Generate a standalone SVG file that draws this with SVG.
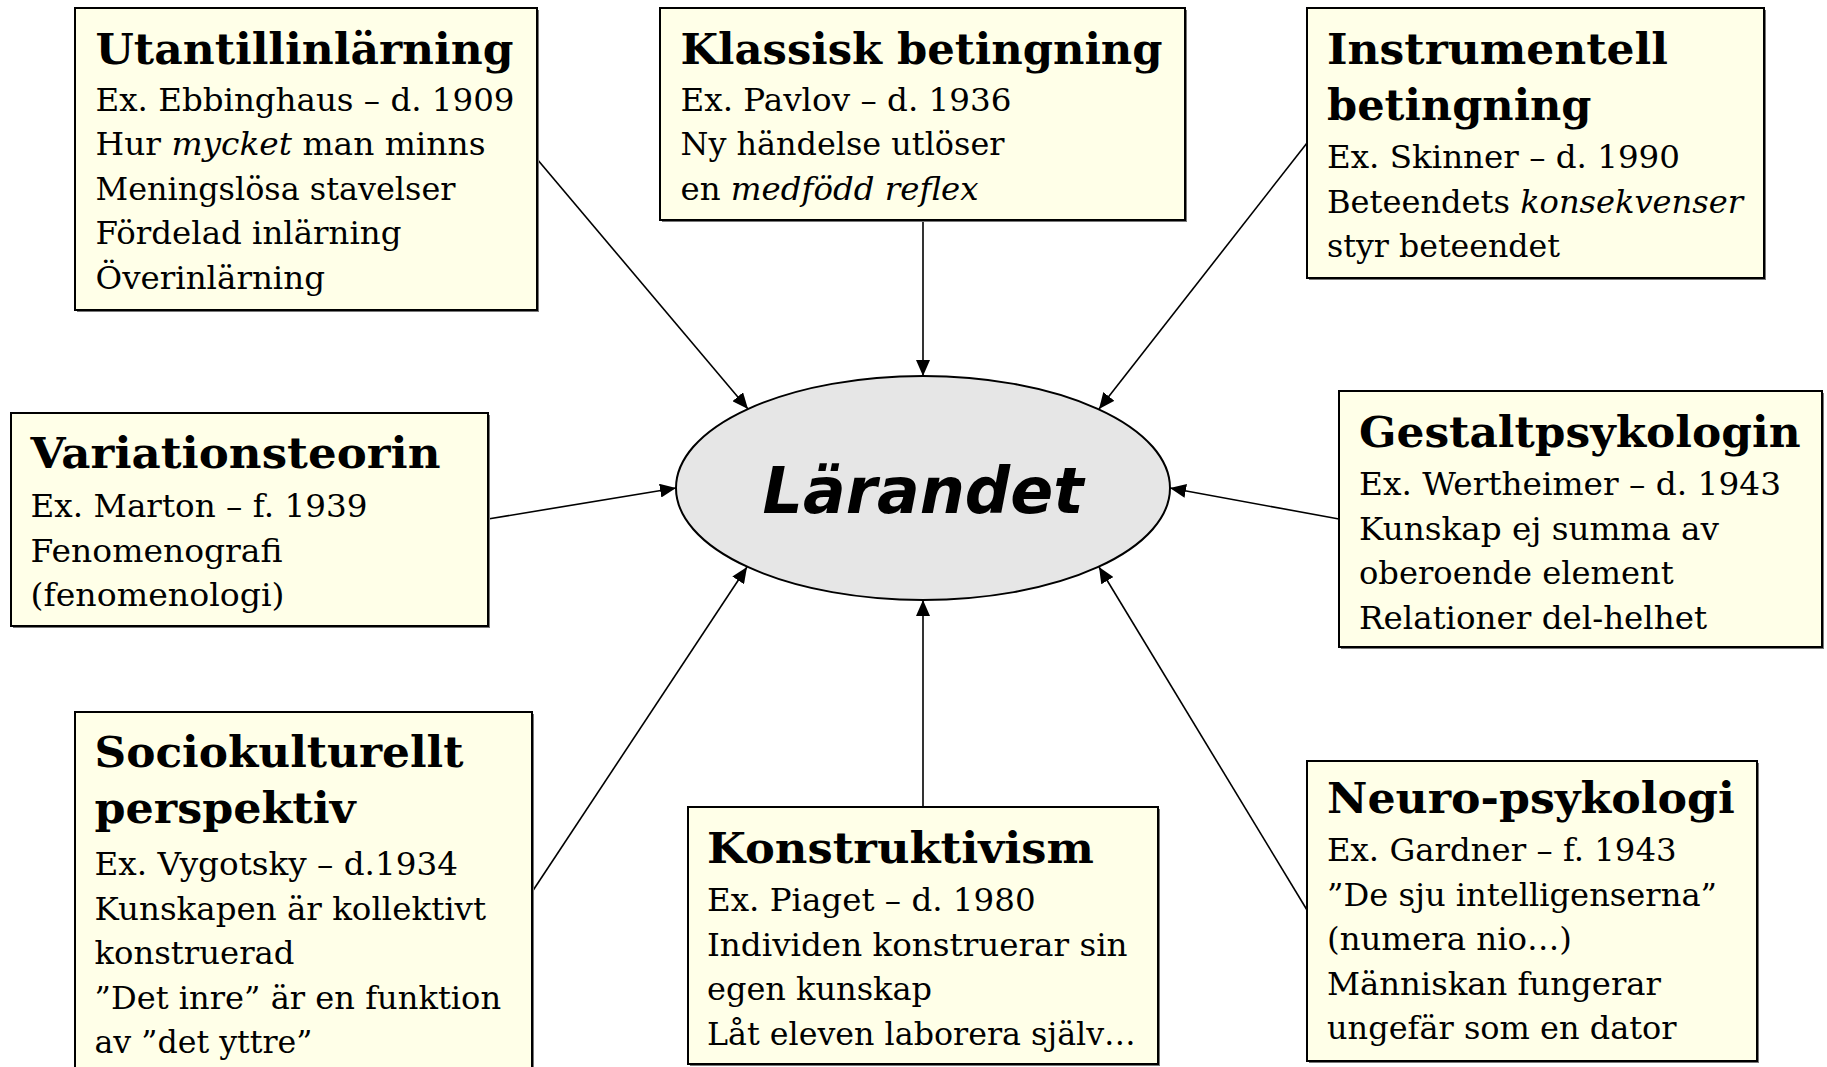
<svg xmlns="http://www.w3.org/2000/svg" width="1827" height="1067" viewBox="0 0 1827 1067">
<style>
.box{fill:#FFFFE8;stroke:#000;stroke-width:2}
.sh{fill:#777}
.t{font-family:"DejaVu Serif",serif;font-weight:bold;font-size:42px;fill:#000}
.b{font-family:"DejaVu Serif",serif;font-size:32.5px;fill:#000}
.i{font-style:italic}
.c{stroke:#000;stroke-width:1.6;fill:none;marker-end:url(#ah)}
</style>
<defs>
<marker id="ah" markerUnits="userSpaceOnUse" markerWidth="17" markerHeight="14" refX="16" refY="7" orient="auto">
<path d="M0,0 L16,7 L0,14 z" fill="#000"/>
</marker>
</defs>
<rect width="1827" height="1067" fill="#fff"/>
<g id="connectors">
<line class="c" x1="537" y1="159" x2="748" y2="409"/>
<line class="c" x1="923" y1="221" x2="923" y2="376"/>
<line class="c" x1="1307" y1="143" x2="1099" y2="409"/>
<line class="c" x1="488" y1="519" x2="676" y2="488"/>
<line class="c" x1="1339" y1="519" x2="1170" y2="488"/>
<line class="c" x1="532" y1="892" x2="747" y2="567"/>
<line class="c" x1="923" y1="807" x2="923" y2="600"/>
<line class="c" x1="1307" y1="910" x2="1099" y2="567"/>
</g>
<g id="center">
<ellipse cx="923" cy="488" rx="247" ry="112" fill="#E6E6E6" stroke="#000" stroke-width="2"/>
<text x="923" y="513" text-anchor="middle" font-family="DejaVu Sans, sans-serif" font-weight="bold" font-style="italic" font-size="64" textLength="321" lengthAdjust="spacingAndGlyphs">Lärandet</text>
</g>
<g id="utantillinlarning">
<rect class="sh" x="77" y="10" width="462" height="302"/>
<rect class="box" x="75" y="8" width="462" height="302"/>
<text class="t" x="95.5" y="64" textLength="418" lengthAdjust="spacingAndGlyphs">Utantillinlärning</text>
<text class="b" x="95.5" y="110.5" textLength="419" lengthAdjust="spacingAndGlyphs">Ex. Ebbinghaus – d. 1909</text>
<text class="b" x="95.5" y="155" textLength="390" lengthAdjust="spacingAndGlyphs">Hur <tspan class="i">mycket</tspan> man minns</text>
<text class="b" x="95.5" y="199.5" textLength="360" lengthAdjust="spacingAndGlyphs">Meningslösa stavelser</text>
<text class="b" x="95.5" y="244" textLength="306" lengthAdjust="spacingAndGlyphs">Fördelad inlärning</text>
<text class="b" x="95.5" y="288.5" textLength="229.5" lengthAdjust="spacingAndGlyphs">Överinlärning</text>
</g>
<g id="klassisk">
<rect class="sh" x="662" y="10" width="525" height="212"/>
<rect class="box" x="660" y="8" width="525" height="212"/>
<text class="t" x="680.5" y="64" textLength="482" lengthAdjust="spacingAndGlyphs">Klassisk betingning</text>
<text class="b" x="680.5" y="110.5" textLength="331" lengthAdjust="spacingAndGlyphs">Ex. Pavlov – d. 1936</text>
<text class="b" x="680.5" y="155" textLength="324" lengthAdjust="spacingAndGlyphs">Ny händelse utlöser</text>
<text class="b" x="680.5" y="199.5" textLength="298" lengthAdjust="spacingAndGlyphs">en <tspan class="i">medfödd reflex</tspan></text>
</g>
<g id="instrumentell">
<rect class="sh" x="1309" y="10" width="457" height="270"/>
<rect class="box" x="1307" y="8" width="457" height="270"/>
<text class="t" x="1327" y="64" textLength="341" lengthAdjust="spacingAndGlyphs">Instrumentell</text>
<text class="t" x="1327" y="120" textLength="264.5" lengthAdjust="spacingAndGlyphs">betingning</text>
<text class="b" x="1327" y="168" textLength="353" lengthAdjust="spacingAndGlyphs">Ex. Skinner – d. 1990</text>
<text class="b" x="1327" y="212.5" textLength="416" lengthAdjust="spacingAndGlyphs">Beteendets <tspan class="i">konsekvenser</tspan></text>
<text class="b" x="1327" y="257" textLength="233" lengthAdjust="spacingAndGlyphs">styr beteendet</text>
</g>
<g id="variationsteorin">
<rect class="sh" x="13" y="415" width="477" height="213"/>
<rect class="box" x="11" y="413" width="477" height="213"/>
<text class="t" x="30.5" y="468" textLength="410" lengthAdjust="spacingAndGlyphs">Variationsteorin</text>
<text class="b" x="30.5" y="517" textLength="337" lengthAdjust="spacingAndGlyphs">Ex. Marton – f. 1939</text>
<text class="b" x="30.5" y="561.5" textLength="252" lengthAdjust="spacingAndGlyphs">Fenomenografi</text>
<text class="b" x="30.5" y="606" textLength="254" lengthAdjust="spacingAndGlyphs">(fenomenologi)</text>
</g>
<g id="gestalt">
<rect class="sh" x="1341" y="393" width="483" height="256"/>
<rect class="box" x="1339" y="391" width="483" height="256"/>
<text class="t" x="1359" y="447" textLength="441.6" lengthAdjust="spacingAndGlyphs">Gestaltpsykologin</text>
<text class="b" x="1359" y="495" textLength="422" lengthAdjust="spacingAndGlyphs">Ex. Wertheimer – d. 1943</text>
<text class="b" x="1359" y="539.5" textLength="360" lengthAdjust="spacingAndGlyphs">Kunskap ej summa av</text>
<text class="b" x="1359" y="584" textLength="314.6" lengthAdjust="spacingAndGlyphs">oberoende element</text>
<text class="b" x="1359" y="628.5" textLength="348" lengthAdjust="spacingAndGlyphs">Relationer del-helhet</text>
</g>
<g id="sociokulturellt">
<rect class="sh" x="77" y="714" width="457" height="380"/>
<rect class="box" x="75" y="712" width="457" height="380"/>
<text class="t" x="94.5" y="767" textLength="369" lengthAdjust="spacingAndGlyphs">Sociokulturellt</text>
<text class="t" x="94.5" y="823" textLength="261" lengthAdjust="spacingAndGlyphs">perspektiv</text>
<text class="b" x="94.5" y="875" textLength="363.5" lengthAdjust="spacingAndGlyphs">Ex. Vygotsky – d.1934</text>
<text class="b" x="94.5" y="919.5" textLength="391.5" lengthAdjust="spacingAndGlyphs">Kunskapen är kollektivt</text>
<text class="b" x="94.5" y="964" textLength="200" lengthAdjust="spacingAndGlyphs">konstruerad</text>
<text class="b" x="94.5" y="1008.5" textLength="406.6" lengthAdjust="spacingAndGlyphs">”Det inre” är en funktion</text>
<text class="b" x="94.5" y="1053" textLength="218" lengthAdjust="spacingAndGlyphs">av ”det yttre”</text>
</g>
<g id="konstruktivism">
<rect class="sh" x="690" y="809" width="470" height="257"/>
<rect class="box" x="688" y="807" width="470" height="257"/>
<text class="t" x="707" y="863" textLength="387" lengthAdjust="spacingAndGlyphs">Konstruktivism</text>
<text class="b" x="707" y="911" textLength="328.6" lengthAdjust="spacingAndGlyphs">Ex. Piaget – d. 1980</text>
<text class="b" x="707" y="955.5" textLength="420.6" lengthAdjust="spacingAndGlyphs">Individen konstruerar sin</text>
<text class="b" x="707" y="1000" textLength="225" lengthAdjust="spacingAndGlyphs">egen kunskap</text>
<text class="b" x="707" y="1044.5" textLength="428.8" lengthAdjust="spacingAndGlyphs">Låt eleven laborera själv…</text>
</g>
<g id="neuropsykologi">
<rect class="sh" x="1309" y="763" width="450" height="300"/>
<rect class="box" x="1307" y="761" width="450" height="300"/>
<text class="t" x="1327" y="813" textLength="407.8" lengthAdjust="spacingAndGlyphs">Neuro-psykologi</text>
<text class="b" x="1327" y="861" textLength="349.6" lengthAdjust="spacingAndGlyphs">Ex. Gardner – f. 1943</text>
<text class="b" x="1327" y="905.5" textLength="390" lengthAdjust="spacingAndGlyphs">”De sju intelligenserna”</text>
<text class="b" x="1327" y="950" textLength="245" lengthAdjust="spacingAndGlyphs">(numera nio…)</text>
<text class="b" x="1327" y="994.5" textLength="334" lengthAdjust="spacingAndGlyphs">Människan fungerar</text>
<text class="b" x="1327" y="1039" textLength="349.6" lengthAdjust="spacingAndGlyphs">ungefär som en dator</text>
</g>
</svg>
